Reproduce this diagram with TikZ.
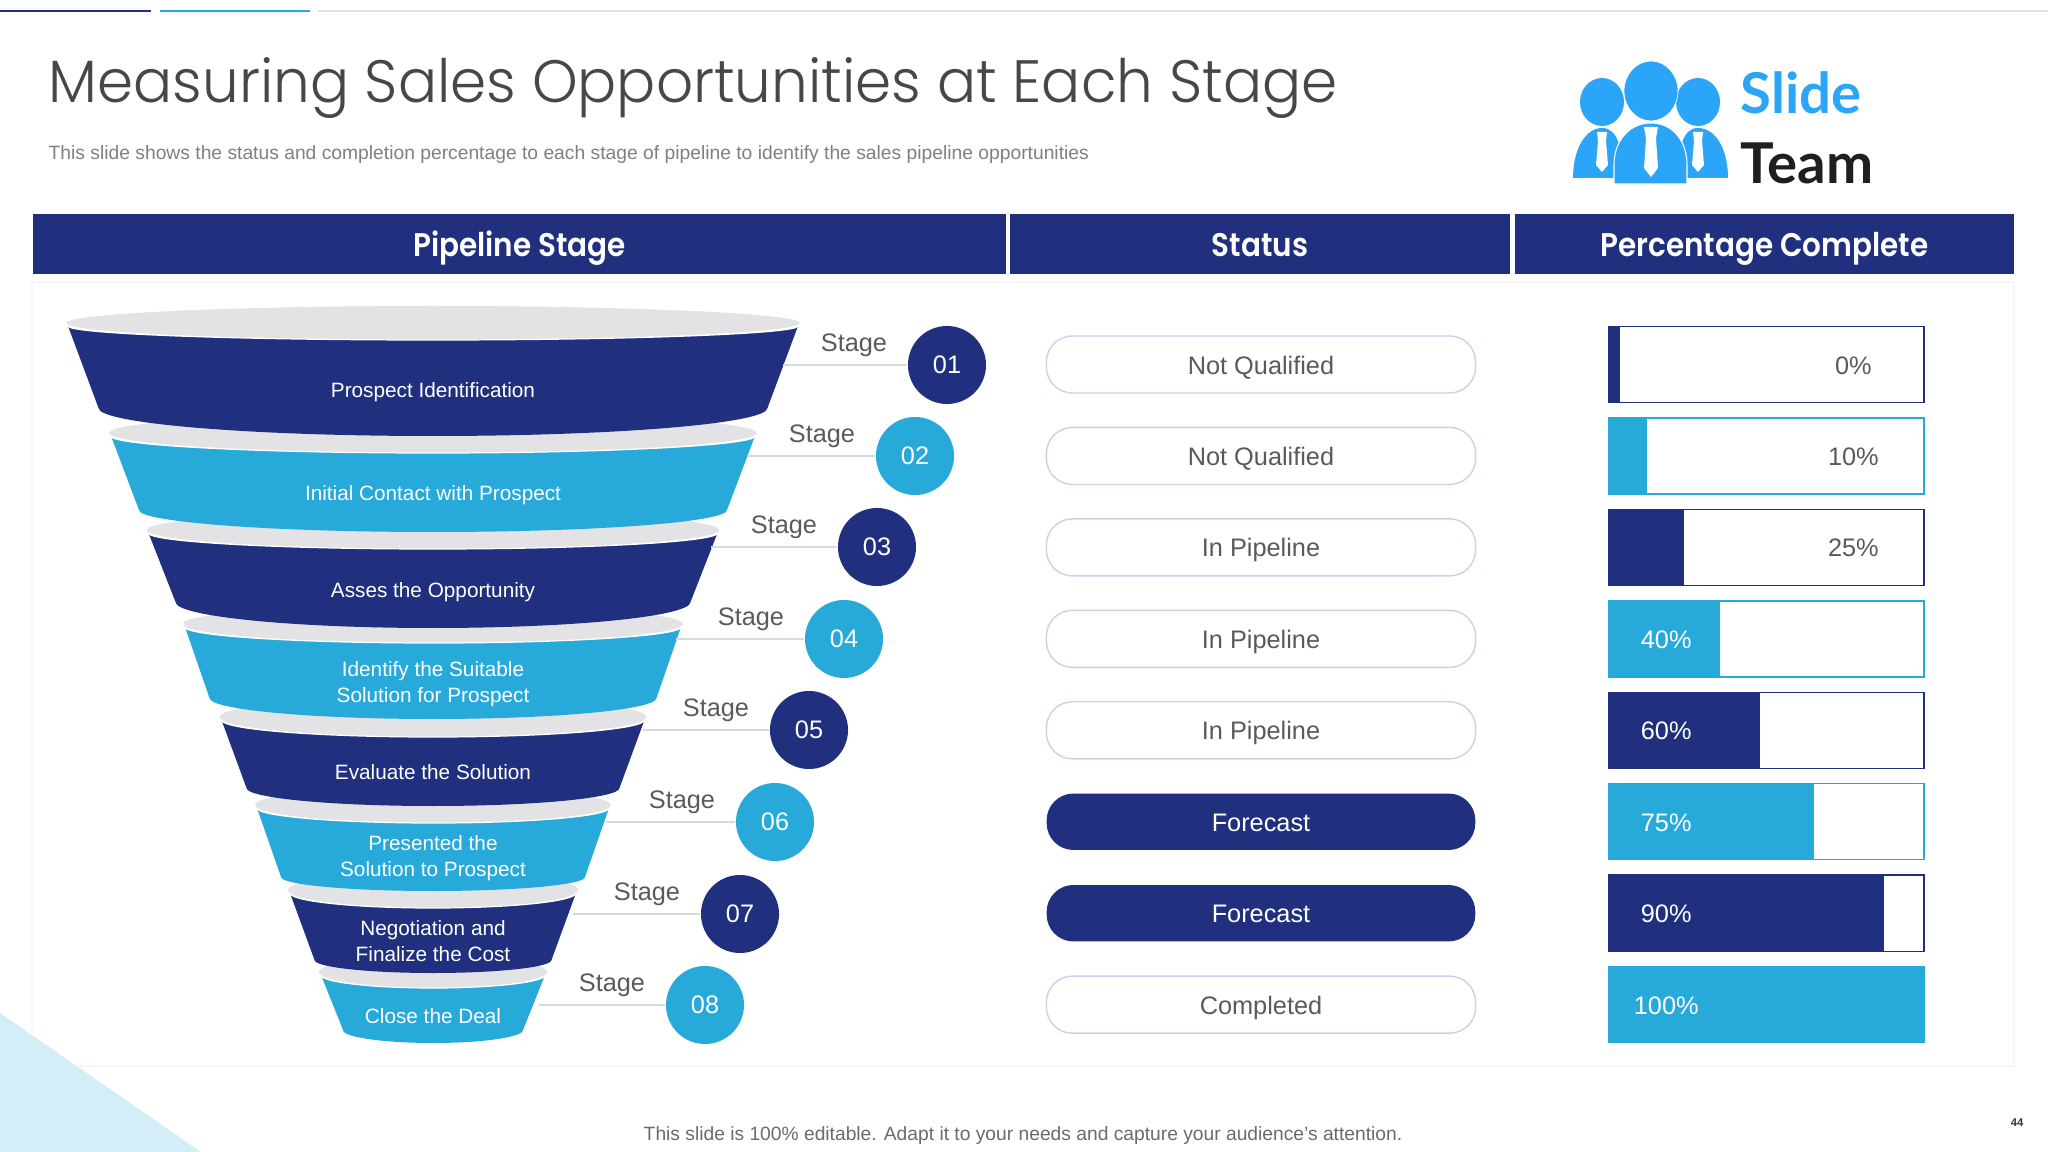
\documentclass[tikz,border=0pt]{standalone}
\usepackage{fontspec}
\usepackage{tikz}
\usetikzlibrary{positioning}
\setmainfont{Liberation Sans}
\newfontfamily\titlefont[FakeStretch=0.97]{Poppins Light}
\newfontfamily\headfont[FakeStretch=0.9]{Poppins SemiBold}
\newfontfamily\logofont{Lato}
\definecolor{navy}{HTML}{20307F}
\definecolor{sky}{HTML}{27A9DA}
\definecolor{lidgray}{HTML}{E3E3E5}
\definecolor{linkgray}{HTML}{D9D9DC}
\definecolor{bodygray}{HTML}{5A5A5A}
\definecolor{pillline}{HTML}{CFCFEA}
\definecolor{logoblue}{HTML}{2BA5F7}
\tikzset{
	headbar/.style={fill=navy, text=white, font=\headfont\fontsize{9.3}{11}\selectfont, minimum height=.6cm, inner sep=0, text height=.3cm, text depth=.06cm},
	partlabel/.style={text=white, align=center, font=\fontsize{5.9}{7.4}\selectfont, inner sep=0},
	stagenum/.style={circle, minimum size=.78cm, inner sep=0, text=white, font=\fontsize{7.2}{9}\selectfont},
	stagelabel/.style={left of=#1, node distance=.93cm, yshift=.195cm, text=bodygray, font=\fontsize{7.2}{9}\selectfont, inner sep=0},
	link/.style={draw=linkgray, line width=.5pt},
	pill/.style={draw=pillline, line width=.4pt, rounded corners=.26cm, minimum width=4.29cm, minimum height=.57cm, text=bodygray, font=\fontsize{7.2}{9}\selectfont, text height=.24cm, text depth=.05cm},
	pillon/.style={pill, draw=navy, fill=navy, text=white, minimum width=4.27cm, minimum height=.55cm},
	bar/.style={line width=.4pt, minimum width=3.15cm, minimum height=.76cm, inner sep=0},
	barfill/.style={anchor=west, minimum height=.76cm, inner sep=0},
	pct/.style={right of=#1, node distance=.87cm, text=bodygray, font=\fontsize{7.2}{9}\selectfont, inner sep=0, text height=.24cm, text depth=.05cm},
	pcton/.style={left of=#1, node distance=1cm, text=white, font=\fontsize{7.2}{9}\selectfont, inner sep=0, text height=.24cm, text depth=.05cm}
}
\newcommand{\funnelpart}[7]{
	\fill[lidgray] ({433},{#3-3}) ellipse [x radius=#2+2, y radius=#4-#3+3];
	\fill[#1] ({433-#2},{#3}) .. controls ({433-#2},{#3+.55*(#4-#3)}) and ({433-.55*#2},{#4}) .. ({433},{#4}) .. controls ({433+.55*#2},{#4}) and ({433+#2},{#3+.55*(#4-#3)}) .. ({433+#2},{#3}) -- ({433+#5},{#6}) .. controls ({433+#5},{#6+.55*(#7-#6)}) and ({433+.55*#5},{#7}) .. ({433},{#7}) .. controls ({433-.55*#5},{#7}) and ({433-#5},{#6+.55*(#7-#6)}) .. ({433-#5},{#6}) -- cycle;
	\draw[white, line width=.35pt] ({433-#2},{#3}) .. controls ({433-#2},{#3+.55*(#4-#3)}) and ({433-.55*#2},{#4}) .. ({433},{#4}) .. controls ({433+.55*#2},{#4}) and ({433+#2},{#3+.55*(#4-#3)}) .. ({433+#2},{#3});
}
\begin{document}
\begin{tikzpicture}[x=.01cm, y=-.01cm, node distance=.914cm]
	\useasboundingbox (0,0) rectangle (2048,1152);
	\fill[white] (0,0) rectangle (2048,1152);
	\draw[black!3, line width=.5pt] (32,282) rectangle (2014,1066);
	\fill[sky!20] (0,1013) -- (201,1152) -- (0,1152) -- cycle;
	\draw[navy, line width=.7pt] (0,11) -- (151,11);
	\draw[sky, line width=.7pt] (160,11) -- (310,11);
	\draw[lidgray, line width=.7pt] (318,11) -- (2048,11);

	\node[anchor=base west, inner sep=0, text=black!72, font=\titlefont\fontsize{17}{20}\selectfont] (Title) at (48,103) {Measuring Sales Opportunities at Each Stage};
	\node[anchor=base west, inner sep=0, text=black!50, font=\fontsize{5.48}{7}\selectfont] (Sub) at (48,160) {This slide shows the status and completion percentage to each stage of pipeline to identify the sales pipeline opportunities};
	\node[text=black!58, inner sep=0, font=\fontsize{5.47}{7}\selectfont] (Foot) at (1023,1136) {This slide is 100\% editable. Adapt it to your needs and capture your audience's attention.};
	\node[text=black!80, inner sep=0, font=\bfseries\fontsize{3.2}{4}\selectfont] (Page) at (2017,1123) {44};

	\fill[logoblue] (1678,178) .. controls (1678,150) and (1682,128) .. (1698,128) .. controls (1716,128) and (1728,150) .. (1728,178) -- cycle;
	\fill[logoblue] (1573,178) .. controls (1573,150) and (1585,128) .. (1602,128) .. controls (1618,128) and (1623,150) .. (1623,178) -- cycle;
	\draw[fill=logoblue, draw=white, line width=.3pt] (1614,184) -- (1614,165) .. controls (1614,140) and (1630,123) .. (1651,123) .. controls (1672,123) and (1687,140) .. (1687,165) -- (1687,184) -- cycle;
	\fill[logoblue] (1602,102) ellipse [x radius=22, y radius=24];
	\fill[logoblue] (1698,102) ellipse [x radius=22, y radius=24];
	\draw[fill=logoblue, draw=white, line width=.2pt] (1651,91) ellipse [x radius=27, y radius=30];
	\fill[white] (1644,127) -- (1658,127) -- (1656,138) -- (1658,168) -- (1651,177) -- (1644,168) -- (1646,138) -- cycle;
	\fill[white] (1597,132) -- (1607,132) -- (1606,141) -- (1608,165) -- (1602,172) -- (1596,165) -- (1598,141) -- cycle;
	\fill[white] (1693,132) -- (1703,132) -- (1702,141) -- (1704,165) -- (1698,172) -- (1692,165) -- (1694,141) -- cycle;
	\node[anchor=base west, inner sep=0, text=logoblue, font=\logofont\bfseries\fontsize{16}{20}\selectfont] (Slide) at (1740,114) {Slide};
	\node[anchor=base west, inner sep=0, text=black!88, font=\logofont\bfseries\fontsize{16}{20}\selectfont] (Team) at (1740,184) {Team};

	\node[headbar, minimum width=9.73cm] (Pipe) at (519.5,244) {Pipeline Stage};
	\node[headbar, minimum width=5cm] (Stat) at (1260,244) {Status};
	\node[headbar, minimum width=4.99cm] (Perc) at (1764.5,244) {Percentage Complete};

	\funnelpart{sky}{112}{975}{988}{90}{1030}{1043}
	\funnelpart{navy}{143}{893}{908}{118.5}{960}{973}
	\funnelpart{sky}{176}{808}{823}{152}{877}{891}
	\funnelpart{navy}{211.5}{720}{737}{186.5}{788}{806}
	\funnelpart{sky}{248}{627}{643}{223.5}{698}{719}
	\funnelpart{navy}{284.5}{533}{549}{257.5}{602}{628}
	\funnelpart{sky}{322}{436}{453}{294}{510}{532}
	\funnelpart{navy}{365}{326}{340}{334.5}{408}{436}

	\node[partlabel] (Part1) at (433,392) {Prospect Identification};
	\node[partlabel] (Part2) at (433,495) {Initial Contact with Prospect};
	\node[partlabel] (Part3) at (433,592) {Asses the Opportunity};
	\node[partlabel] (Part4) at (433,684) {Identify the Suitable\\Solution for Prospect};
	\node[partlabel] (Part5) at (433,772) {Evaluate the Solution};
	\node[partlabel] (Part6) at (433,858) {Presented the\\Solution to Prospect};
	\node[partlabel] (Part7) at (433,941) {Negotiation and\\Finalize the Cost};
	\node[partlabel] (Part8) at (433,1016) {Close the Deal};

	\coordinate (Edge1) at (783,365);
	\coordinate (Edge2) at (747,456);
	\coordinate (Edge3) at (711,547);
	\coordinate (Edge4) at (676,639);
	\coordinate (Edge5) at (643,730);
	\coordinate (Edge6) at (606,822);
	\coordinate (Edge7) at (573,914);
	\coordinate (Edge8) at (539,1005);

	\node[stagenum, fill=navy] (Num1) at (947,365) {01};
	\node[stagenum, fill=sky] (Num2) at (915,456) {02};
	\node[stagenum, fill=navy] (Num3) at (877,547) {03};
	\node[stagenum, fill=sky] (Num4) at (844,639) {04};
	\node[stagenum, fill=navy] (Num5) at (809,730) {05};
	\node[stagenum, fill=sky] (Num6) at (775,822) {06};
	\node[stagenum, fill=navy] (Num7) at (740,914) {07};
	\node[stagenum, fill=sky] (Num8) at (705,1005) {08};

	\node[stagelabel=Num1] (Lab1) {Stage};
	\node[stagelabel=Num2] (Lab2) {Stage};
	\node[stagelabel=Num3] (Lab3) {Stage};
	\node[stagelabel=Num4] (Lab4) {Stage};
	\node[stagelabel=Num5] (Lab5) {Stage};
	\node[stagelabel=Num6] (Lab6) {Stage};
	\node[stagelabel=Num7] (Lab7) {Stage};
	\node[stagelabel=Num8] (Lab8) {Stage};

	\draw[link] (Edge1) -- (Num1);
	\draw[link] (Edge2) -- (Num2);
	\draw[link] (Edge3) -- (Num3);
	\draw[link] (Edge4) -- (Num4);
	\draw[link] (Edge5) -- (Num5);
	\draw[link] (Edge6) -- (Num6);
	\draw[link] (Edge7) -- (Num7);
	\draw[link] (Edge8) -- (Num8);

	\node[pill] (State1) at (1261,364.5) {Not Qualified};
	\node[pill, below of=State1] (State2) {Not Qualified};
	\node[pill, below of=State2] (State3) {In Pipeline};
	\node[pill, below of=State3] (State4) {In Pipeline};
	\node[pill, below of=State4] (State5) {In Pipeline};
	\node[pillon, below of=State5] (State6) {Forecast};
	\node[pillon, below of=State6] (State7) {Forecast};
	\node[pill, below of=State7] (State8) {Completed};

	\node[bar, draw=navy, right of=State1, node distance=5.05cm] (Bar1) {};
	\node[bar, draw=sky, right of=State2, node distance=5.05cm] (Bar2) {};
	\node[bar, draw=navy, right of=State3, node distance=5.05cm] (Bar3) {};
	\node[bar, draw=sky, right of=State4, node distance=5.05cm] (Bar4) {};
	\node[bar, draw=navy, right of=State5, node distance=5.05cm] (Bar5) {};
	\node[bar, draw=sky, right of=State6, node distance=5.05cm] (Bar6) {};
	\node[bar, draw=navy, right of=State7, node distance=5.05cm] (Bar7) {};
	\node[bar, draw=sky, right of=State8, node distance=5.05cm] (Bar8) {};

	\node[barfill, fill=navy, minimum width=.11cm] (Fill1) at (Bar1.west) {};
	\node[barfill, fill=sky, minimum width=.38cm] (Fill2) at (Bar2.west) {};
	\node[barfill, fill=navy, minimum width=.75cm] (Fill3) at (Bar3.west) {};
	\node[barfill, fill=sky, minimum width=1.11cm] (Fill4) at (Bar4.west) {};
	\node[barfill, fill=navy, minimum width=1.51cm] (Fill5) at (Bar5.west) {};
	\node[barfill, fill=sky, minimum width=2.05cm] (Fill6) at (Bar6.west) {};
	\node[barfill, fill=navy, minimum width=2.75cm] (Fill7) at (Bar7.west) {};
	\node[barfill, fill=sky, minimum width=3.15cm] (Fill8) at (Bar8.west) {};

	\node[pct=Bar1] (Pct1) {0\%};
	\node[pct=Bar2] (Pct2) {10\%};
	\node[pct=Bar3] (Pct3) {25\%};
	\node[pcton=Bar4] (Pct4) {40\%};
	\node[pcton=Bar5] (Pct5) {60\%};
	\node[pcton=Bar6] (Pct6) {75\%};
	\node[pcton=Bar7] (Pct7) {90\%};
	\node[pcton=Bar8] (Pct8) {100\%};
\end{tikzpicture}
\end{document}
